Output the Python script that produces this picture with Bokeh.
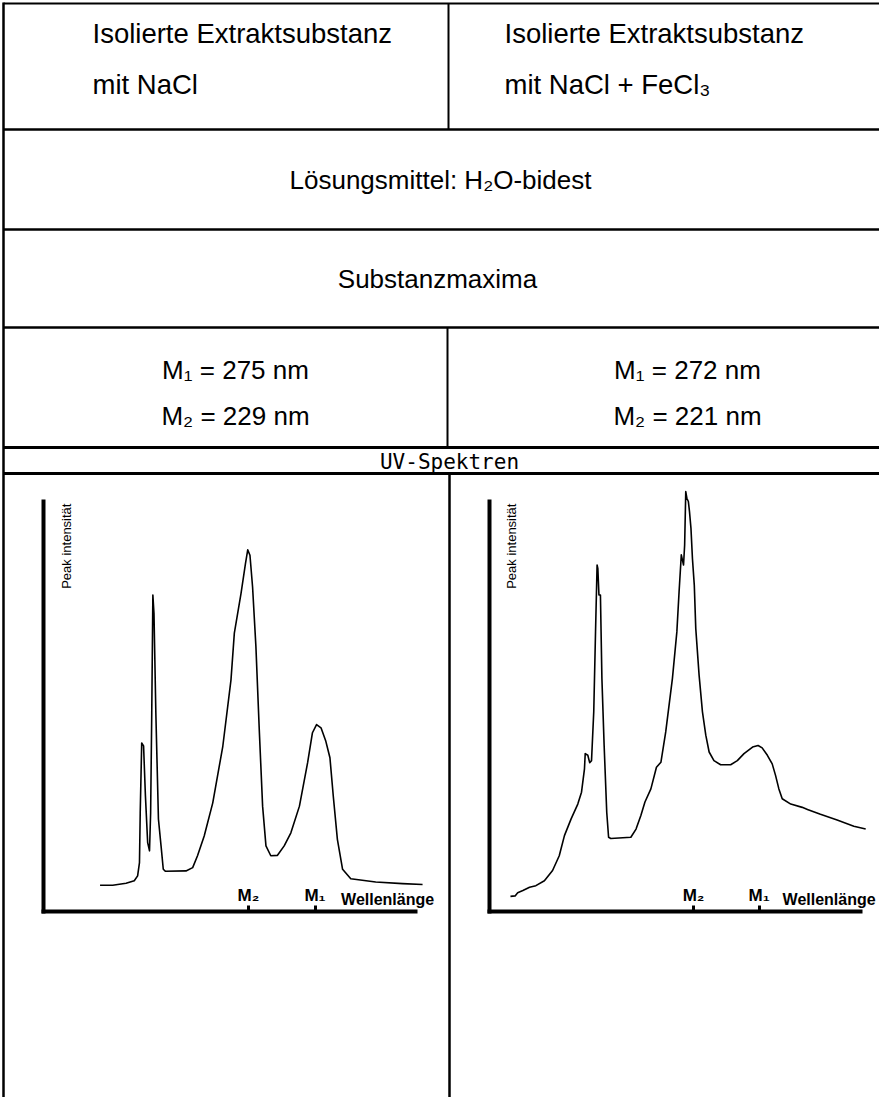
from math import pi

from bokeh.plotting import figure
from bokeh.models import (Range1d, LinearAxis, FixedTicker, CustomJSTickFormatter, Label)
from bokeh.core.properties import value
from bokeh.embed import file_html
from bokeh.resources import INLINE

# ---------------- data ----------------
# abscissa: position along the wavelength axis (0 = axis origin, 100 = axis end)
# ordinate: peak intensity (0 = axis, 100 = top of the intensity axis)
LEFT_X = [15.2, 18.6, 22.2, 24.4, 25.3, 25.8, 26.0, 26.4, 26.9, 27.4,
          28.0, 28.5, 28.8, 29.1, 29.4, 29.7, 30.2, 30.9, 31.6, 32.2,
          32.8, 38.3, 40.1, 41.4, 43.2, 45.5, 48.2, 50.4, 51.3, 53.1,
          54.3, 54.9, 55.5, 56.2, 57.1, 58.0, 58.9, 59.8, 61.1, 62.9,
          64.7, 66.5, 68.8, 71.0, 72.3, 73.4, 74.6, 75.9, 77.0, 77.9,
          79.0, 80.4, 82.6, 89.3, 96.5, 101.9]
LEFT_Y = [6.4, 6.4, 6.9, 7.5, 8.7, 11.9, 24.1, 41.1, 40.4, 28.2,
          16.8, 14.8, 24.1, 48.4, 77.2, 72.7, 48.4, 22.5, 16.0, 10.3,
          9.8, 9.9, 10.7, 13.6, 18.4, 26.5, 40.3, 56.5, 67.9, 77.6,
          84.9, 88.2, 86.9, 79.2, 64.6, 44.4, 25.7, 16.0, 13.6, 13.7,
          16.0, 19.2, 25.7, 36.3, 43.6, 45.6, 44.8, 41.5, 37.5, 28.1,
          17.6, 10.3, 8.0, 7.2, 6.8, 6.6]

RIGHT_X = [5.65, 6.9, 7.6, 9.0, 10.8, 12.5, 14.8, 17.0, 18.8, 20.2,
           22.0, 23.8, 24.8, 25.6, 25.8, 26.5, 27.0, 27.5, 28.1, 28.6,
           29.0, 29.2, 29.5, 29.9, 30.3, 30.9, 31.6, 32.1, 32.7, 38.1,
           39.5, 40.8, 41.9, 43.5, 45.0, 46.2, 47.5, 49.3, 50.5, 51.1,
           51.7, 52.3, 52.6, 52.9, 53.2, 53.6, 53.9, 54.3, 54.7, 55.2,
           55.6, 56.5, 57.4, 58.3, 59.2, 60.5, 62.3, 65.0, 66.8, 68.6,
           70.9, 72.4, 73.5, 74.9, 76.2, 77.1, 78.0, 78.9, 81.2, 84.3,
           85.7, 89.2, 93.7, 98.2, 101.4]
RIGHT_Y = [3.7, 3.8, 4.6, 5.1, 5.9, 6.3, 7.5, 10.0, 13.6, 18.5,
           22.6, 26.2, 29.1, 34.8, 38.5, 38.1, 36.3, 36.8, 48.7, 69.0,
           84.5, 83.7, 77.2, 77.2, 56.8, 40.5, 24.2, 18.1, 17.8, 18.1,
           20.1, 23.4, 26.7, 29.9, 35.2, 36.4, 43.8, 56.8, 68.2, 78.0,
           87.0, 84.5, 89.4, 102.4, 100.8, 100.0, 97.6, 93.5, 86.1, 79.6,
           69.0, 57.6, 48.7, 43.0, 38.9, 36.8, 35.8, 35.8, 36.8, 38.5,
           40.1, 40.5, 39.9, 38.1, 36.0, 33.2, 29.9, 27.5, 26.2, 25.4,
           24.9, 23.7, 22.3, 20.8, 20.1]

LEFT_TICKS = [55.1, 73.0]
RIGHT_TICKS = [55.0, 72.7]
TICK_NAMES = ["M₂", "M₁"]

HEADER_LEFT = ["Isolierte Extraktsubstanz", "mit NaCl"]
HEADER_RIGHT = ["Isolierte Extraktsubstanz", "mit NaCl + FeCl₃"]
SOLVENT = "Lösungsmittel: H₂O-bidest"
MAXIMA_TITLE = "Substanzmaxima"
MAXIMA_LEFT = ["M₁ = 275 nm", "M₂ = 229 nm"]
MAXIMA_RIGHT = ["M₁ = 272 nm", "M₂ = 221 nm"]
SPECTRA_TITLE = "UV-Spektren"
Y_LABEL = "Peak intensität"
X_LABEL = "Wellenlänge"

# ---------------- layout ----------------
W, H = 879, 1097
OX, OY = 8, 8            # page offset of the figure
FONT = "Liberation Sans"


def mapped_range(a_px, b_px, a_val, b_val, lo_px, hi_px):
    k = (b_val - a_val) / (b_px - a_px)
    return Range1d(start=a_val + (lo_px - a_px) * k, end=a_val + (hi_px - a_px) * k)


p = figure(width=W, height=H, output_backend="svg", toolbar_location=None,
           x_range=Range1d(OX, OX + W), y_range=Range1d(OY + H, OY),
           x_axis_location=None, y_axis_location=None, min_border=0,
           background_fill_color="white", border_fill_color="white",
           outline_line_color=None)
p.grid.visible = False

# spectrum coordinate systems (axis origin / ends in page pixels)
AXIS_Y0, AXIS_Y100 = 919, 509
p.extra_x_ranges = {
    "L": mapped_range(51, 423, 0, 100, OX, OX + W),
    "R": mapped_range(497, 868, 0, 100, OX, OX + W),
}
p.extra_y_ranges = {"S": mapped_range(AXIS_Y0, AXIS_Y100, 0, 100, OY + H, OY)}

# ---------------- table frame ----------------
def seg(x0, y0, x1, y1, w):
    p.segment(x0=x0, y0=y0, x1=x1, y1=y1, line_color="black", line_width=w)

seg([11], [11], [OX + W], [11], 2)
seg([11], [10], [11], [OY + H], 2.5)
seg([456], [11], [456], [137], 2)
seg([11, 11, 11], [137, 237, 335], [OX + W] * 3, [137, 237, 335], 2.5)
seg([455], [335], [455], [455], 2)
seg([11, 11], [455, 481], [OX + W] * 2, [455, 481], 3)
seg([457], [481], [457], [OY + H], 2.5)

# ---------------- table texts ----------------
p.text(x=[100, 100, 512, 512], y=[41, 92, 41, 92], text=HEADER_LEFT + HEADER_RIGHT,
       text_align="left", text_baseline="middle", text_color="black",
       text_font=value(FONT), text_font_size=value("27.5px"))
p.text(x=[448, 445, 243, 243, 695, 695], y=[187, 286, 377, 423, 377, 423],
       text=[SOLVENT, MAXIMA_TITLE] + MAXIMA_LEFT + MAXIMA_RIGHT,
       text_align="center", text_baseline="middle", text_color="black",
       text_font=value(FONT), text_font_size=value("26px"))
p.text(x=[457], y=[469], text=[SPECTRA_TITLE], text_align="center", text_baseline="middle",
       text_color="black", text_font=value("DejaVu Sans Mono"), text_font_size=value("21px"))

# ---------------- spectra ----------------
for name, xs, ys, ticks, xlab_x, ylab_x in (("L", LEFT_X, LEFT_Y, LEFT_TICKS, 80.0, 6.2),
                                             ("R", RIGHT_X, RIGHT_Y, RIGHT_TICKS, 79.0, 5.9)):
    p.line(xs, ys, x_range_name=name, y_range_name="S", line_color="black",
           line_width=1.6, line_join="round")

    xa = LinearAxis(x_range_name=name, y_range_name="S", fixed_location=0, bounds=(0, 100),
                    ticker=FixedTicker(ticks=ticks),
                    formatter=CustomJSTickFormatter(args=dict(names=TICK_NAMES),
                                                    code="return names[index];"),
                    axis_line_width=4, axis_line_color="black", axis_line_cap="square",
                    major_tick_in=0, major_tick_out=6, major_tick_line_width=3,
                    major_tick_line_color="black", minor_tick_in=0, minor_tick_out=0,
                    major_label_standoff=1, major_label_text_font=FONT,
                    major_label_text_font_style="bold", major_label_text_font_size="17px",
                    major_label_text_color="black")
    p.add_layout(xa, "above")

    ya = LinearAxis(x_range_name=name, y_range_name="S", fixed_location=0, bounds=(0, 100),
                    ticker=FixedTicker(ticks=[]),
                    axis_line_width=4, axis_line_color="black", axis_line_cap="square",
                    major_tick_in=0, major_tick_out=0, minor_tick_in=0, minor_tick_out=0)
    p.add_layout(ya, "left")

    p.add_layout(Label(x=xlab_x, y=2.9, x_range_name=name, y_range_name="S", text=X_LABEL,
                       text_font=FONT, text_font_style="bold", text_font_size="16px",
                       text_color="black", text_align="left", text_baseline="middle"))
    p.add_layout(Label(x=ylab_x, y=99.5, x_range_name=name, y_range_name="S", text=Y_LABEL,
                       angle=pi / 2, text_font=FONT, text_font_size="13px",
                       text_color="black", text_align="right", text_baseline="middle"))

open("out.html", "w").write(file_html(p, INLINE))
